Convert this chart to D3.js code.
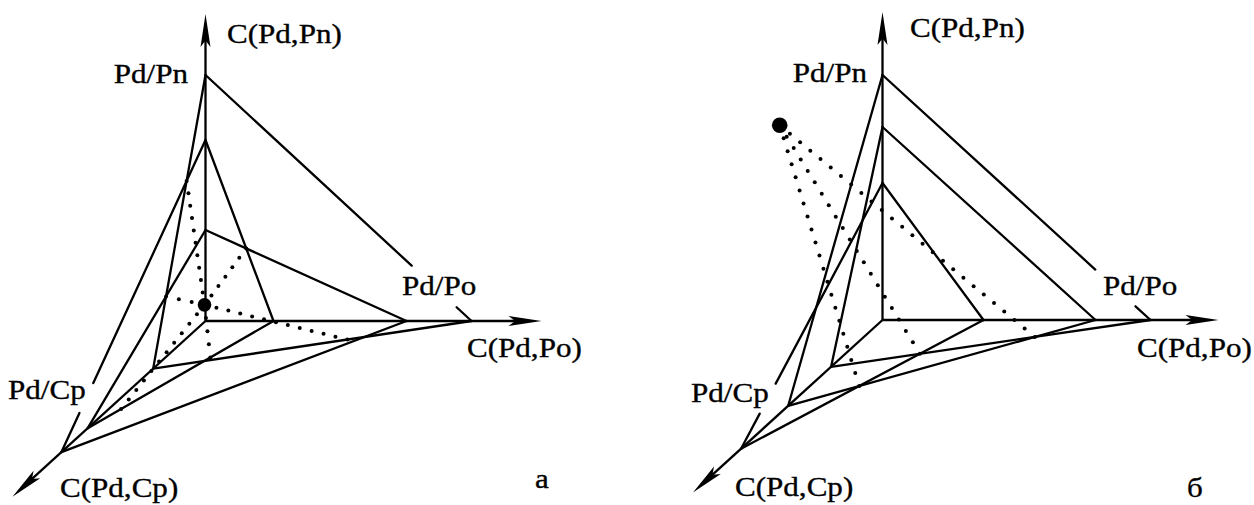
<!DOCTYPE html>
<html>
<head>
<meta charset="utf-8">
<script src="https://cdnjs.cloudflare.com/ajax/libs/d3/7.8.5/d3.min.js"></script>
<style>
body { margin: 0; background: #fff; }
svg { display: block; }
text { font-family: "Liberation Serif", "Times New Roman", serif; font-size: 27.5px; fill: #000; stroke: #000; stroke-width: 0.35px; }
</style>
</head>
<body>
<svg id="chart" width="1254" height="505"></svg>
<script>

// axis titles and level labels
var axisNames = ["C(Pd,Pn)", "C(Pd,Po)", "C(Pd,Cp)"];
var levelNames = ["Pd/Pn", "Pd/Po", "Pd/Cp"];
var panelNames = ["a", "б"];

// panel a : level values on each axis (outer, middle, inner)
var pnA = [9.84, 7.24, 3.64];
var poA = [10.64, 8.04, 2.72];
var cpA = [7.79, 6.37, 2.83];
var axisEndA = [12.28, 13.44, 10.44];   // pn, po, cp
var pointA = [0.7, 1.0, 1.32];          // po, cp, pn
var edgesA = [["P1","O1"], ["P1","C3"], ["C3","O1"],
	["P2","C1"], ["C1","O2"], ["O2","P3"], ["P3","C2"], ["C2","O3"], ["O3","P2"]];
var projA = [
	{cross: [["P1","C3"], ["P2","C1"]]},
	{cross: [["P2","O3"], ["P3","O2"]]},
	{along: ["C3","O1"], t: 0.61},
	{cross: [["P1","C3"], ["P3","C2"]]},
	{along: ["C2","O3"], t: 0.66},
	{along: ["C2","O3"], t: 0.18}
];

// panel б
var pnB = [9.8, 7.72, 5.48];
var poB = [10.72, 8.52, 4.04];
var cpB = [7.65, 5.1, 2.78];
var axisEndB = [12.32, 13.44, 10.25];
var pointB = [0.03, 5.6, 11.56];
var edgesB = [["P1","O1"], ["O1","C3"], ["C3","P2"], ["P2","O2"], ["O2","C2"], ["C2","P1"],
	["P3","O3"], ["O3","C1"], ["C1","P3"]];
var projB = [
	{cross: [["C3","O1"], ["C2","O2"]]},
	{cross: [["C1","O3"], ["C3","O1"]]},
	{cross: [["C1","O3"], ["C2","O2"]]}
];

var svg = d3.select("#chart");

var unit = d3.scaleLinear().domain([0, 1]).range([0, 25]);

var line = d3.line();

function drawPanel(cfg) {
	var g = svg.append("g");
	var ang = cfg.cpAngle * Math.PI / 180,
		ux = Math.cos(ang),
		uy = Math.sin(ang);

	//oblique projection of (po, cp, pn)
	function proj(po, cp, pn) {
		return [cfg.origin[0] + unit(po) + unit(cp) * ux,
			cfg.origin[1] - unit(pn) + unit(cp) * uy];
	}

	var V = {};
	cfg.pn.forEach(function(v, i) { V["P" + (i + 1)] = proj(0, 0, v); });
	cfg.po.forEach(function(v, i) { V["O" + (i + 1)] = proj(v, 0, 0); });
	cfg.cp.forEach(function(v, i) { V["C" + (i + 1)] = proj(0, v, 0); });

	var O = proj(0, 0, 0);
	var tips = [proj(0, 0, cfg.axisEnd[0]), proj(cfg.axisEnd[1], 0, 0), proj(0, cfg.axisEnd[2], 0)];

	//axes with arrows
	tips.forEach(function(t) {
		var dx = t[0] - O[0], dy = t[1] - O[1], len = Math.hypot(dx, dy);
		var u = [dx / len, dy / len], n = [-u[1], u[0]];
		var L = 33, w = 5;
		g.append("path")
			.attr("d", line([O, [t[0] - u[0] * L * 0.7, t[1] - u[1] * L * 0.7]]))
			.attr("stroke", "#000").attr("stroke-width", 2.3).attr("fill", "none");
		g.append("path")
			.attr("d", line([t,
				[t[0] - u[0] * L + n[0] * w, t[1] - u[1] * L + n[1] * w],
				[t[0] - u[0] * L * 0.8, t[1] - u[1] * L * 0.8],
				[t[0] - u[0] * L - n[0] * w, t[1] - u[1] * L - n[1] * w]]) + "Z")
			.attr("fill", "#000");
	});

	//solid edges, some broken where a label sits
	function lerp(p, q, t) { return [p[0] + (q[0] - p[0]) * t, p[1] + (q[1] - p[1]) * t]; }
	cfg.edges.forEach(function(e) {
		var p = V[e[0]], q = V[e[1]];
		var gap = cfg.gaps[e[0] + "-" + e[1]];
		var segs = gap ? [[0, gap[0]], [gap[1], 1]] : [[0, 1]];
		segs.forEach(function(s) {
			g.append("path")
				.attr("d", line([lerp(p, q, s[0]), lerp(p, q, s[1])]))
				.attr("stroke", "#000").attr("stroke-width", 2.3)
				.attr("stroke-linecap", "round").attr("fill", "none");
		});
	});

	function cross(e1, e2) {
		var p = V[e1[0]], r = [V[e1[1]][0] - p[0], V[e1[1]][1] - p[1]];
		var q = V[e2[0]], s = [V[e2[1]][0] - q[0], V[e2[1]][1] - q[1]];
		var den = r[0] * s[1] - r[1] * s[0];
		var t = ((q[0] - p[0]) * s[1] - (q[1] - p[1]) * s[0]) / den;
		return lerp(p, V[e1[1]], t);
	}

	//dotted projection lines from the point
	var pt = proj(cfg.point[0], cfg.point[1], cfg.point[2]);
	cfg.projs.forEach(function(d) {
		var end = d.cross ? cross(d.cross[0], d.cross[1]) : lerp(V[d.along[0]], V[d.along[1]], d.t);
		var len = Math.hypot(end[0] - pt[0], end[1] - pt[1]);
		var n = Math.round(len / cfg.step);
		g.selectAll(null)
			.data(d3.range(1, n + 1))
			.enter().append("circle")
			.attr("cx", function(i) { return pt[0] + (end[0] - pt[0]) * i / n; })
			.attr("cy", function(i) { return pt[1] + (end[1] - pt[1]) * i / n; })
			.attr("r", 2)
			.attr("fill", "#000");
	});

	g.append("circle")
		.attr("cx", pt[0]).attr("cy", pt[1])
		.attr("r", cfg.pointR)
		.attr("fill", "#000");

	//labels
	cfg.labels.forEach(function(l) {
		g.append("text")
			.attr("transform", "translate(" + l.x + "," + l.y + ") scale(1.13,1)")
			.attr("text-anchor", l.anchor || "start")
			.text(l.text);
	});
}

drawPanel({
	origin: [205.5, 321], cpAngle: 137.7,
	pn: pnA, po: poA, cp: cpA, axisEnd: axisEndA,
	edges: edgesA, gaps: {"P1-O1": [0.775, 0.944], "P2-C1": [0.779, 0.875]},
	point: pointA, pointR: 6.8, projs: projA, step: 12,
	labels: [
		{text: axisNames[0], x: 227, y: 43},
		{text: levelNames[0], x: 188, y: 83, anchor: "end"},
		{text: levelNames[1], x: 402, y: 295},
		{text: axisNames[1], x: 467, y: 357},
		{text: levelNames[2], x: 8, y: 399},
		{text: axisNames[2], x: 60, y: 497},
		{text: panelNames[0], x: 535, y: 488}
	]
});

drawPanel({
	origin: [882.5, 320], cpAngle: 137.7,
	pn: pnB, po: poB, cp: cpB, axisEnd: axisEndB,
	edges: edgesB, gaps: {"P1-O1": [0.794, 0.944], "C1-P3": [0.132, 0.245]},
	point: pointB, pointR: 7.8, projs: projB, step: 13.5,
	labels: [
		{text: axisNames[0], x: 910, y: 37},
		{text: levelNames[0], x: 867, y: 82, anchor: "end"},
		{text: levelNames[1], x: 1103, y: 295},
		{text: axisNames[1], x: 1137, y: 357},
		{text: levelNames[2], x: 691, y: 402},
		{text: axisNames[2], x: 735, y: 496},
		{text: panelNames[1], x: 1187, y: 497}
	]
});

</script>
</body>
</html>
